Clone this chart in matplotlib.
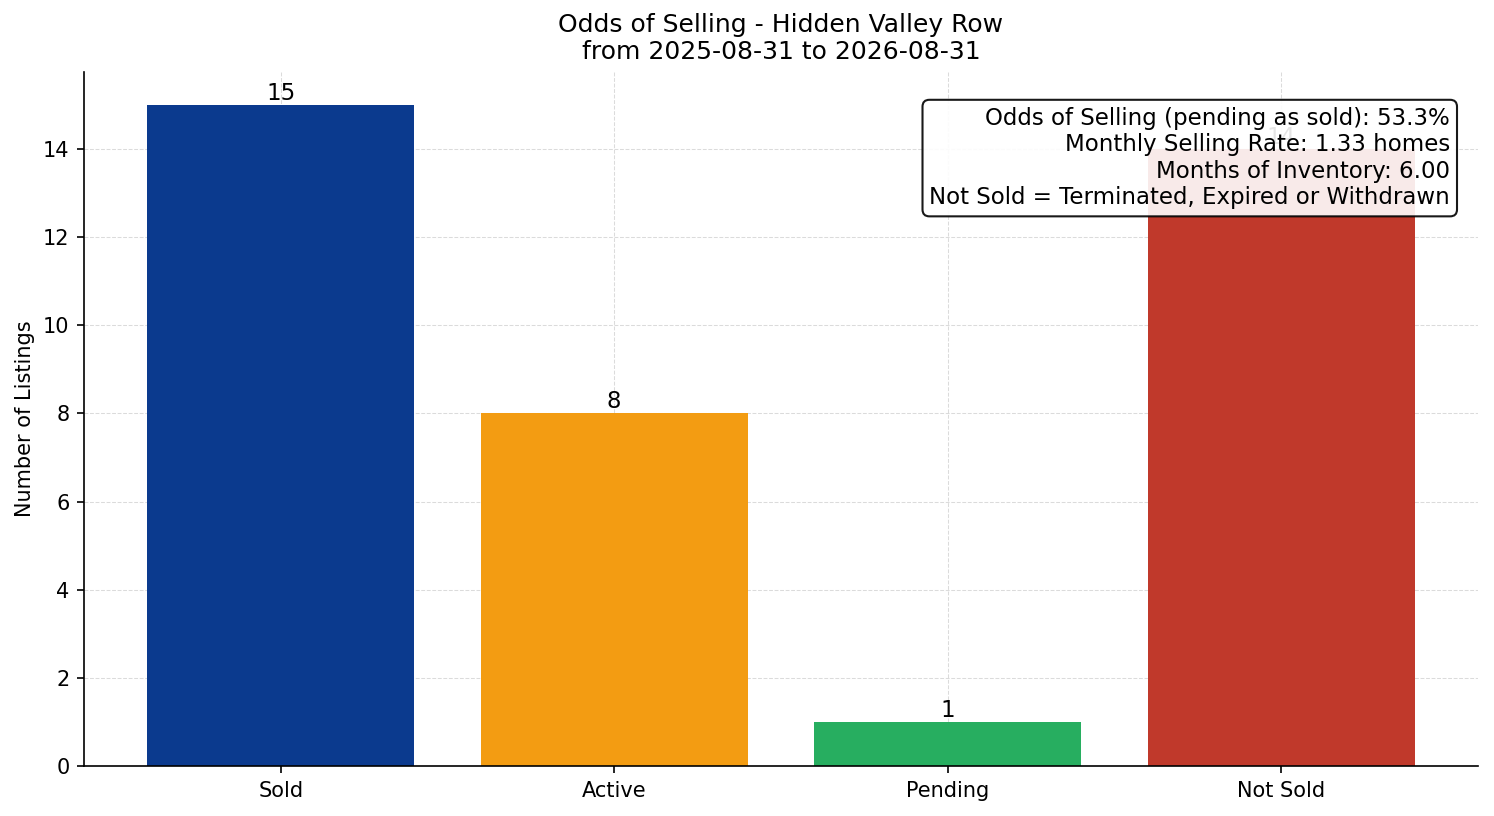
import matplotlib.pyplot as plt

# data
categories = ["Sold", "Active", "Pending", "Not Sold"]
counts = [15, 8, 1, 14]
bar_colors = ["#0B3A8E", "#F39C12", "#27AE60", "#C0392B"]

title = "Odds of Selling - Hidden Valley Row\nfrom 2025-08-31 to 2026-08-31"
info_lines = [
    "Odds of Selling (pending as sold): 53.3%",
    "Monthly Selling Rate: 1.33 homes",
    "Months of Inventory: 6.00",
    "Not Sold = Terminated, Expired or Withdrawn",
]

fig, ax = plt.subplots(figsize=(9.96, 5.44), dpi=150)

bars = ax.bar(categories, counts, color=bar_colors, width=0.8, zorder=2)
ax.bar_label(bars, labels=[str(c) for c in counts], fontsize=11, padding=0)

ax.set_title(title, fontsize=12)
ax.set_ylabel("Number of Listings", fontsize=10)
ax.grid(True, linestyle="--", linewidth=0.5, color="#cccccc", alpha=0.7, zorder=0)
ax.set_axisbelow(True)
ax.spines[["top", "right"]].set_visible(False)

ax.text(
    0.98, 0.95, "\n".join(info_lines),
    transform=ax.transAxes, ha="right", va="top", fontsize=11,
    bbox=dict(boxstyle="round,pad=0.3", facecolor="white", edgecolor="black", alpha=0.9),
    zorder=5,
)

fig.subplots_adjust(left=0.0562, right=0.9893, top=0.9118, bottom=0.0613)
plt.savefig("out.png", dpi=150)
